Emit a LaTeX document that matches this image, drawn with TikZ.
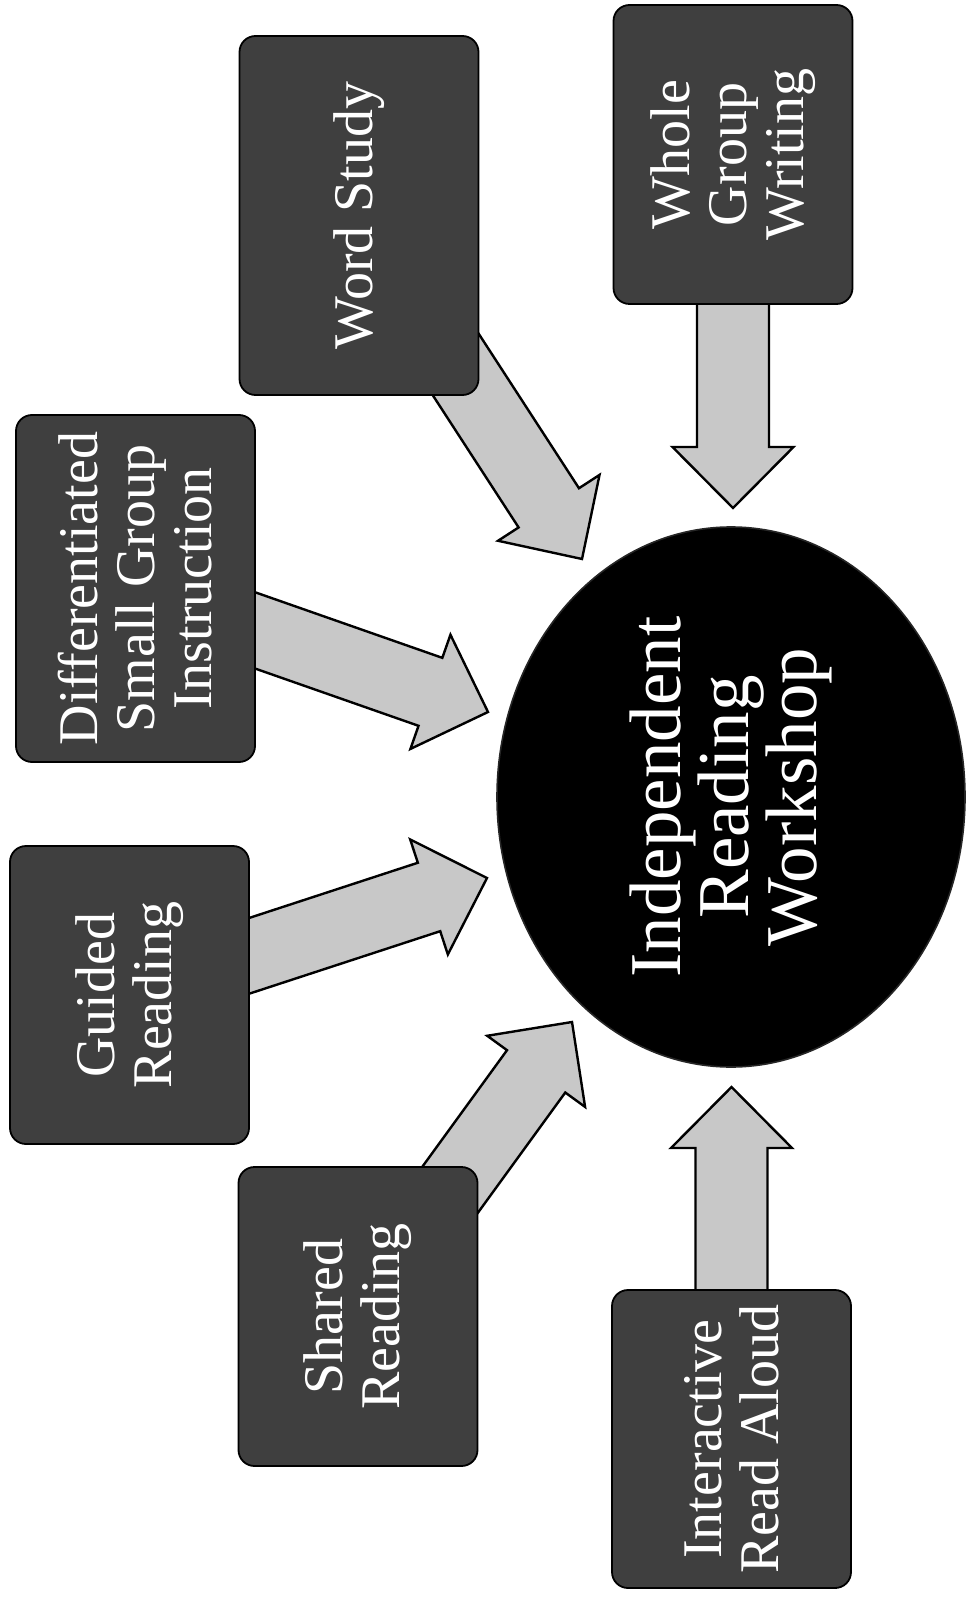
\documentclass[tikz,border=0pt]{standalone}
\usepackage{fontspec}
\setmainfont{Liberation Serif}
\usepackage{tikz}
\usetikzlibrary{calc, shapes.geometric}
\definecolor{boxgray}{HTML}{3F3F3F}
\definecolor{arrowgray}{HTML}{C8C8C8}
\pgfdeclarelayer{background}
\pgfsetlayers{background,main}

% fat block arrow from a node centre to a tip coordinate
\newcommand{\fatarrow}[2]{%
  \coordinate (hb) at ($(#2)!30.5pt!(#1)$);
  \filldraw[bigarrow] ($(#1)!18pt!90:(#2)$) -- ($(hb)!18pt!90:(#2)$)
    -- ($(hb)!30.25pt!90:(#2)$) -- (#2) -- ($(hb)!30.25pt!-90:(#2)$)
    -- ($(hb)!18pt!-90:(#2)$) -- ($(#1)!18pt!-90:(#2)$) -- cycle;
}

\begin{document}
\begin{tikzpicture}[x=0.5pt, y=-0.5pt,
    % 1. rounded dark boxes, text turned upright
    blockbox/.style={
        draw=black, line width=0.9pt, fill=boxgray, rounded corners=8pt,
        minimum height=119.5pt, inner sep=2pt, rotate=90,
        align=center, text=white,
        font=\fontsize{28}{28.5}\selectfont
    },
    % 2. black hub in the middle
    hubnode/.style={
        ellipse, draw=black!85, fill=black, line width=0.8pt,
        minimum width=270pt, minimum height=234pt, inner sep=0pt,
        rotate=90, align=center, text=white,
        font=\fontsize{36.5}{34}\selectfont
    },
    % 3. grey block arrows
    bigarrow/.style={
        draw=black, line width=1.2pt, fill=arrowgray, line join=miter
    }
]
    \useasboundingbox (0,0) rectangle (969,1598);

    % --- centre ---
    \node[hubnode] (irw) at (731,797) {Independent\\Reading\\Workshop};

    % --- boxes ---
    \node[blockbox, minimum width=179.5pt] (word) at (359,215.5) {Word Study};
    \node[blockbox, minimum width=149.5pt] (whole) at (733,154.5) {Whole\\Group\\Writing};
    \node[blockbox, minimum width=173.5pt] (diff) at (135.5,588.5) {Differentiated\\Small Group\\Instruction};
    \node[blockbox, minimum width=149pt] (guided) at (129.5,995) {Guided\\Reading};
    \node[blockbox, minimum width=149.5pt] (shared) at (358,1316.5) {Shared\\Reading};
    \node[blockbox, minimum width=149pt] (iread) at (731.5,1439) {Interactive\\Read Aloud};

    % --- arrow tips ---
    \coordinate (wordtip) at (582,559);
    \coordinate (wholetip) at (733,508);
    \coordinate (difftip) at (488,712);
    \coordinate (guidedtip) at (487,878);
    \coordinate (sharedtip) at (572,1022);
    \coordinate (ireadtip) at (731.5,1087);

    \begin{pgfonlayer}{background}
        \fatarrow{word.center}{wordtip}
        \fatarrow{whole.center}{wholetip}
        \fatarrow{diff.center}{difftip}
        \fatarrow{guided.center}{guidedtip}
        \fatarrow{shared.center}{sharedtip}
        \fatarrow{iread.center}{ireadtip}
    \end{pgfonlayer}

\end{tikzpicture}
\end{document}
